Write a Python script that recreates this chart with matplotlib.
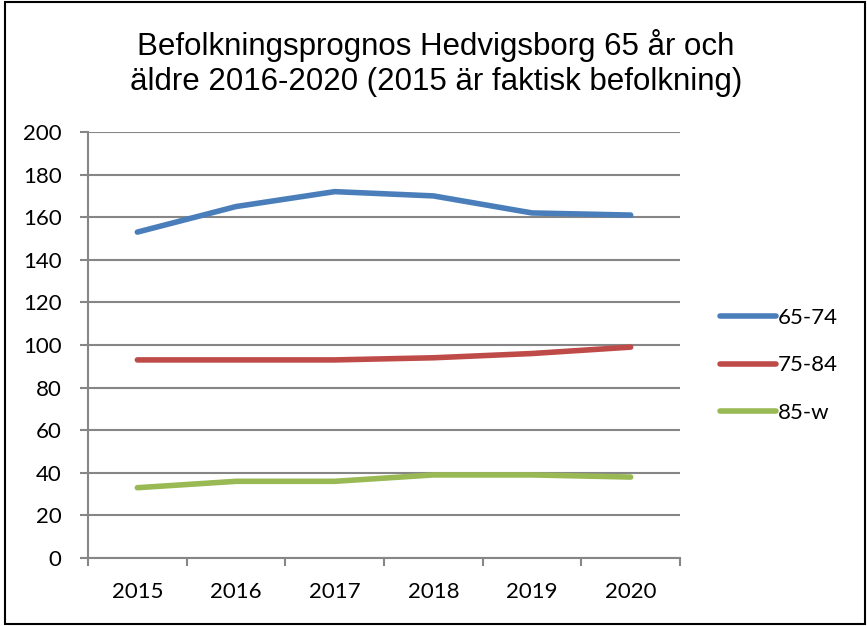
import matplotlib.pyplot as plt
from matplotlib.patches import Rectangle

years = ['2015', '2016', '2017', '2018', '2019', '2020']
age_65_74 = [153, 165, 172, 170, 162, 161]
age_75_84 = [93, 93, 93, 94, 96, 99]
age_85_w = [33, 36, 36, 39, 39, 38]

plt.rcParams['font.family'] = ['Lato', 'DejaVu Sans']

fig = plt.figure(figsize=(8.67, 6.26), dpi=100)
ax = fig.add_axes([88/867, 1 - 558/626, (680-88)/867, (558-132)/626])

x = range(len(years))
ax.plot(x, age_65_74, color='#4a7ebb', lw=4, solid_capstyle='round', label='65-74')
ax.plot(x, age_75_84, color='#be4b48', lw=4, solid_capstyle='round', label='75-84')
ax.plot(x, age_85_w, color='#98b954', lw=4, solid_capstyle='round', label='85-w')

ax.set_xlim(-0.5, 5.5)
ax.set_ylim(0, 200)
ax.set_yticks(range(0, 201, 20))
# category boundaries get the tick marks, labels sit in the middle
ax.set_xticks([i + 0.5 for i in range(-1, 6)], minor=False)
ax.set_xticklabels([])
ax.set_xticks(list(x), minor=True)
ax.set_xticklabels(years, minor=True)
ax.tick_params(axis='x', which='major', length=6, color='#868686', width=1.5, direction='out')
ax.tick_params(axis='x', which='minor', length=0, labelsize=16, pad=17)
ax.tick_params(axis='y', length=6, color='#868686', width=1.5, direction='out', labelsize=16, pad=13)

ax.grid(axis='y', color='#868686', lw=1.5)
ax.set_axisbelow(True)
for s in ['top', 'right']:
    ax.spines[s].set_visible(False)
for s in ['left', 'bottom']:
    ax.spines[s].set_color('#868686')
    ax.spines[s].set_linewidth(1.5)

fig.legend(loc='upper left', bbox_to_anchor=(700/867, 1 - 288/626), frameon=False,
           fontsize=16, handlelength=2.5, handletextpad=0.12, labelspacing=1.23)

fig.text(436/867, 1 - 63/626, 'Befolkningsprognos Hedvigsborg 65 år och\näldre 2016-2020 (2015 är faktisk befolkning)',
         ha='center', va='center', fontsize=22.5, family=['Liberation Sans', 'DejaVu Sans'], linespacing=1.2)

fig.patches.append(Rectangle((5/867, 2/626), 860/867, 622/626, transform=fig.transFigure,
                             fill=False, edgecolor='black', lw=1.5))

fig.savefig('out.png', dpi=100)
